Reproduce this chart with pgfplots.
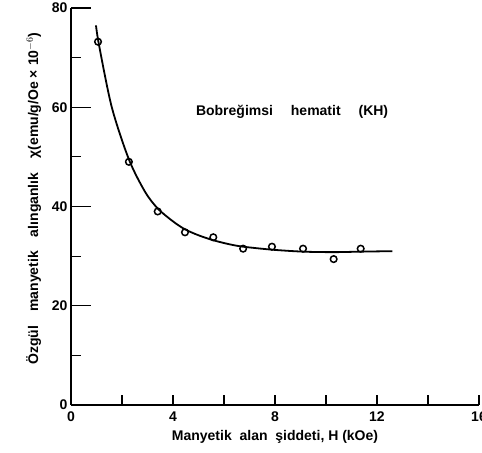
\documentclass[border=0pt]{standalone}
\usepackage{fontspec}
\setmainfont{Liberation Sans}
\usepackage{pgfplots}
\pgfplotsset{compat=1.18}
\begin{document}
\begin{tikzpicture}
\begin{axis}[
  name=ax,
  width=408pt, height=397pt, scale only axis,
  xmin=0, xmax=16, ymin=0, ymax=80,
  axis lines=left, axis line style={-, line width=1.5pt},
  xtick={0,4,8,12,16}, minor xtick={2,4,...,16},
  major x tick style={draw=none},
  ytick={0,20,40,60,80}, minor ytick={10,30,50,70},
  tick align=inside,
  every tick/.style={black, line width=1.2pt},
  major tick length=20pt, minor tick length=10pt,
  tick label style={font=\fontsize{14}{16}\selectfont\bfseries},
  xticklabel style={yshift=-3pt},
  /pgf/number format/assume math mode=true,
  xlabel={\fontsize{14}{16}\selectfont\bfseries Manyetik\ \ alan\ \ şiddeti, H (kOe)},
  ylabel={\fontsize{14}{16}\selectfont\bfseries Özgül\quad manyetik\quad alınganlık\quad χ(emu/g/Oe × 10$^{-6}$)},
  xlabel style={yshift=-2pt},
  ylabel style={at={(ticklabel cs:0.52)}, yshift=4pt},
  clip=false,
]
\addplot[black, line width=1.8pt, smooth, tension=0.5] coordinates {
 (0.98,76.5) (1.1,72.5) (1.6,60) (2.27,49.5) (2.9,43) (3.4,39.6) (4.0,37) (4.47,35.4) (5.0,34.2) (5.58,33.2) (6.2,32.4) (6.75,31.9) (7.88,31.3) (9.1,30.9) (10.3,30.8) (11.36,30.9) (12.6,31.0)
};
\addplot[only marks, mark=o, mark size=3.3pt, black, line width=1.5pt, mark options={fill=white}] coordinates {
 (1.06,73.2) (2.27,49.0) (3.4,39.0) (4.47,34.8) (5.58,33.8) (6.75,31.5) (7.88,31.9) (9.1,31.5) (10.3,29.4) (11.36,31.5)
};
\node[font=\fontsize{14}{16}\selectfont\bfseries] at (axis cs:8.67,59) {Bobreğimsi\quad\ hematit\quad\ (KH)};
\end{axis}
\pgfresetboundingbox
\path ([xshift=-71pt,yshift=-48pt]ax.south west) rectangle ([xshift=3pt,yshift=8pt]ax.north east);
\end{tikzpicture}
\end{document}
